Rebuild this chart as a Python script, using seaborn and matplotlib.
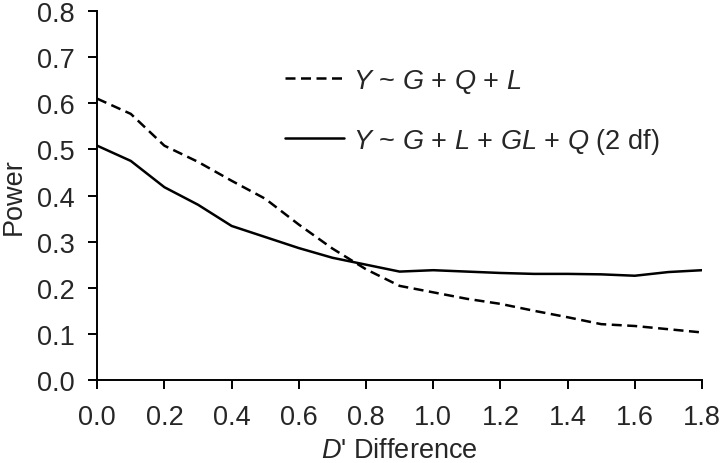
import numpy as np
import pandas as pd
import seaborn as sns
import matplotlib.pyplot as plt

sns.set_style("ticks")
plt.rcParams['font.family'] = ['Liberation Sans', 'DejaVu Sans']
plt.rcParams['mathtext.fontset'] = 'custom'
plt.rcParams['mathtext.rm'] = 'Liberation Sans'
plt.rcParams['mathtext.it'] = 'Liberation Sans:italic'

d_diff = [0.0, 0.1, 0.2, 0.3, 0.4, 0.5, 0.6, 0.7, 0.8, 0.9,
          1.0, 1.1, 1.2, 1.3, 1.4, 1.5, 1.6, 1.7, 1.8]
power_additive = [0.610, 0.577, 0.508, 0.473, 0.432, 0.393, 0.337, 0.285, 0.240, 0.204,
                  0.190, 0.176, 0.165, 0.150, 0.136, 0.121, 0.117, 0.110, 0.103]
power_interaction = [0.508, 0.475, 0.418, 0.380, 0.334, 0.310, 0.286, 0.265, 0.250, 0.235,
                     0.238, 0.235, 0.232, 0.230, 0.230, 0.229, 0.226, 0.234, 0.238]
label_additive = "$Y$ ~ $G$ + $Q$ + $L$"
label_interaction = "$Y$ ~ $G$ + $L$ + $GL$ + $Q$ (2 df)"

df = pd.DataFrame({"x": d_diff, "add": power_additive, "inter": power_interaction})

fs = 19.5
fig = plt.figure(figsize=(7.2, 4.64), dpi=100)
ax = fig.add_axes([0.135, 0.179, 0.84, 0.795])

sns.lineplot(data=df, x="x", y="add", ax=ax, color="black", lw=1.8,
             label=label_additive)
ax.lines[-1].set_dashes([4.0, 2.2])
sns.lineplot(data=df, x="x", y="inter", ax=ax, color="black", lw=1.8,
             label=label_interaction)

ax.set_xlim(0, 1.8)
ax.set_ylim(0, 0.8)
ax.set_xticks(np.arange(0, 1.81, 0.2))
ax.set_yticks(np.arange(0, 0.81, 0.1))
ax.xaxis.set_major_formatter(plt.FormatStrFormatter("%.1f"))
ax.yaxis.set_major_formatter(plt.FormatStrFormatter("%.1f"))
ax.tick_params(labelsize=fs, length=6.3, width=1.4, color="black", direction="out")
ax.tick_params(axis="y", pad=10)
ax.tick_params(axis="x", pad=11)
for s in ["top", "right"]:
    ax.spines[s].set_visible(False)
for s in ["left", "bottom"]:
    ax.spines[s].set_linewidth(1.4)
    ax.spines[s].set_color("black")

ax.set_xlabel("$D$' Difference", fontsize=fs, labelpad=5)
ax.set_ylabel("Power", fontsize=fs, labelpad=7)

ax.legend(loc="upper left", bbox_to_anchor=(0.27, 0.915), frameon=False,
          fontsize=fs, handlelength=2.2, handletextpad=0.3, labelspacing=1.15)

fig.savefig("out.png", dpi=100)
